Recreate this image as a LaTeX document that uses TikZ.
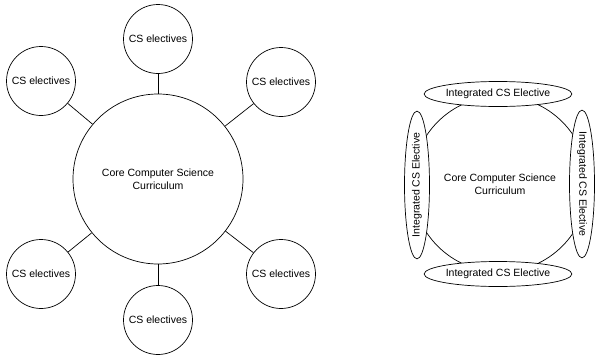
\documentclass[tikz,border=0pt]{standalone}
\usepackage{fontspec}
\setmainfont{Liberation Sans}
\usetikzlibrary{shapes.geometric}
\begin{document}
\begin{tikzpicture}[x=1pt,y=-1pt,line width=0.7pt,
  every node/.style={font=\fontsize{10.5}{13}\selectfont,align=center,inner sep=0pt},
  elective/.style={draw,circle,fill=white,minimum size=69pt},
  core/.style={draw,circle,minimum size=170pt},
  integrated/.style={draw,ellipse,fill=white,minimum width=117pt,minimum height=25pt}]
 \useasboundingbox (0,0) rectangle (595,354);
 % hub with electives
 \node[core] (coreL) at (158,179) {Core Computer Science\\Curriculum};
 \node[elective] (elecT) at (158,39) {CS electives};
 \node[elective] (elecTL) at (41,81) {CS electives};
 \node[elective] (elecTR) at (281,82) {CS electives};
 \node[elective] (elecBL) at (41,274) {CS electives};
 \node[elective] (elecBR) at (281,274) {CS electives};
 \node[elective] (elecB) at (158,320) {CS electives};
 \foreach \n in {T,TL,TR,BL,BR,B}
   \draw (coreL) -- (elec\n);
 % integrated electives
 \node[core,minimum size=176pt] (coreR) at (500,184) {Core Computer Science\\Curriculum};
 \node[integrated] (intT) at (498,94) {Integrated CS Elective};
 \node[integrated] (intB) at (498,274) {Integrated CS Elective};
 \node[integrated,rotate=90] (intL) at (417,185) {Integrated CS Elective};
 \node[integrated,rotate=-90] (intR) at (582,184) {Integrated CS Elective};
\end{tikzpicture}
\end{document}
